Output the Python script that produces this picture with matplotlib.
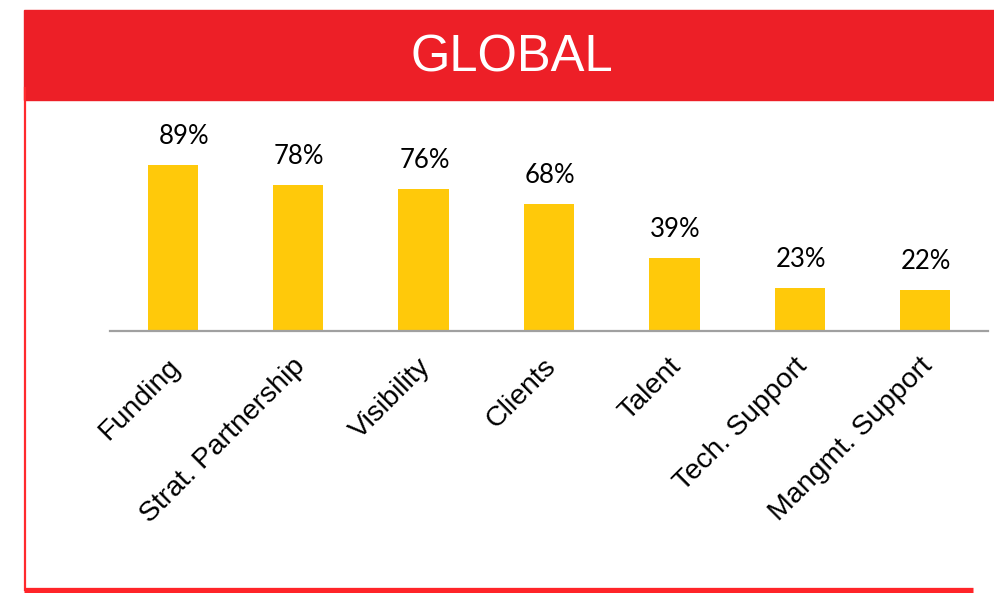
import numpy as np
import matplotlib
matplotlib.use("Agg")
from matplotlib import pyplot as plt
from matplotlib.patches import Rectangle
from matplotlib.lines import Line2D
from matplotlib.transforms import ScaledTranslation

# values
categories = ["Funding", "Strat. Partnership", "Visibility", "Clients",
              "Talent", "Tech. Support", "Mangmt. Support"]
shares = [89, 78, 76, 68, 39, 23, 22]
title = "GLOBAL"

W, H = 994, 593
fig = plt.figure(figsize=(W / 100, H / 100), dpi=100)

# red title banner + frame lines, placed in figure pixels
fig.patches.append(Rectangle((24 / W, 1 - 100 / H), (W - 24) / W, 90 / H,
                             transform=fig.transFigure, color="#ED1F27", zorder=0))
fig.text(0.5145, 1 - 58.5 / H, title, color="white", fontsize=36.5,
         family="Liberation Sans", ha="center", va="center")
# left edge line
fig.lines.append(Line2D([25 / W, 25 / W], [1 - 88 / H, 1 - 590 / H],
                        transform=fig.transFigure, color="#FF2A2E", lw=1.6))
# bottom edge line
fig.lines.append(Line2D([24 / W, 973 / W], [1 - 589.5 / H, 1 - 589.5 / H],
                        transform=fig.transFigure, color="#FF2429", lw=3.8,
                        solid_capstyle="butt"))

ax = fig.add_axes([110 / W, 1 - 331 / H, 878 / W, 186.6 / H])
x = np.arange(len(categories))
bars = ax.bar(x, shares, width=0.4, color="#FFC90A", zorder=2)
ax.set_xlim(-0.5, len(categories) - 0.5)
ax.set_ylim(0, 100)

for i, (b, v) in enumerate(zip(bars, shares)):
    dx = 11 if i == 0 else 1  # first label sits a bit right in the original
    ax.annotate(f"{v}%", (b.get_x() + b.get_width() / 2, v),
                xytext=(dx, 16), textcoords="offset pixels",
                ha="center", va="bottom", fontsize=18.5, family="Lato",
                color="black", clip_on=False)

for s in ["top", "right", "left"]:
    ax.spines[s].set_visible(False)
ax.spines["bottom"].set_color("#A0A0A0")
ax.spines["bottom"].set_linewidth(1.6)
ax.set_yticks([])
ax.set_xticks(x)
ax.set_xticklabels(categories, rotation=45, ha="right", rotation_mode="anchor",
                   fontsize=20.5, family="Liberation Sans")
ax.tick_params(axis="x", length=0, pad=16)
shift = ScaledTranslation(-6 / 100, 0, fig.dpi_scale_trans)
for lbl in ax.get_xticklabels():
    lbl.set_transform(lbl.get_transform() + shift)
ax.patch.set_alpha(0)

fig.savefig("out.png", dpi=100)
